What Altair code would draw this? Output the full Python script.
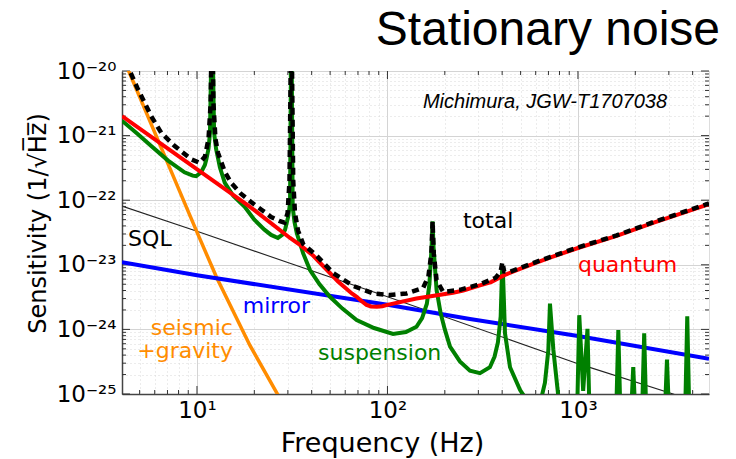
import altair as alt
import pandas as pd

# ---------------- data ----------------
# quantum noise
quantum_f = [4.04, 19, 30.8, 35, 40.8, 45, 50, 55, 60, 65, 68.9, 73, 77.6, 82, 88, 94, 100, 142, 221, 250,
             306, 350, 405, 500, 600, 713, 1000, 1596, 2500, 4875]
quantum_h = [2.0e-21, 7.9e-23, 2.6e-23, 2.0e-23, 1.38e-23, 1.02e-23, 7.4e-24, 5.5e-24, 4.4e-24, 3.6e-24,
             3.2e-24, 2.75e-24, 2.4e-24, 2.27e-24, 2.24e-24, 2.29e-24, 2.4e-24, 3.0e-24, 3.7e-24, 4.0e-24,
             4.8e-24, 5.4e-24, 6.8e-24, 8.7e-24, 1.07e-23, 1.29e-23, 1.82e-23, 2.8e-23, 4.5e-23, 8.7e-23]

# suspension thermal noise
susp_f = [4.04, 4.9, 5.75, 7.05, 8.6, 9.5, 9.9, 10.5, 11.0, 11.2, 11.5, 11.7, 12.0, 12.3, 12.6, 13.2, 14.0,
          15.5, 17.8, 20, 22.6, 24.5, 26.6, 28, 29.0, 30.1, 30.8, 31.3, 31.8, 32.5, 33.4, 36.1, 39.2, 44, 49.9,
          58, 68.9, 85, 107, 125, 142, 152, 161, 166, 170.5, 172.5, 174.5, 181, 190, 200, 213, 240, 271, 306,
          345, 365, 380, 393, 399, 401, 404, 414, 440, 497, 600, 645, 671, 699, 713, 743, 789, 850, 990, 1016,
          1065, 1122, 1150, 1588, 1629, 1670, 1902, 1951, 2000, 2171, 2227, 2283, 2860, 2933, 3006, 3654,
          3748, 3842, 4875]
susp_h = [1.7e-21, 1.05e-21, 6.9e-22, 4.1e-22, 2.7e-22, 2.4e-22, 2.35e-22, 2.7e-22, 3.5e-22, 4.3e-22, 6.3e-22,
          1.1e-21, 1e-19, 1.1e-21, 6.2e-22, 3.2e-22, 1.86e-22, 1.17e-22, 7.9e-23, 5.0e-23, 3.5e-23, 2.9e-23,
          2.6e-23, 2.9e-23, 3.5e-23, 5.5e-23, 8.9e-23, 1e-19, 7.9e-23, 4.6e-23, 3.1e-23, 1.5e-23, 8.3e-24,
          5.0e-24, 3.2e-24, 2.1e-24, 1.4e-24, 1.05e-24, 8.5e-25, 9.1e-25, 1.1e-24, 1.5e-24, 2.5e-24, 5.0e-24,
          1.9e-23, 4.7e-23, 1.9e-23, 4.1e-24, 1.8e-24, 1.0e-24, 5.4e-25, 3.2e-25, 2.3e-25, 2.1e-25, 2.6e-25,
          3.8e-25, 6.3e-25, 1.6e-24, 7.4e-24, 9.3e-24, 7.4e-24, 8.7e-25, 2.6e-25, 1.15e-25, 5e-26, 9.1e-26,
          1.5e-25, 4.8e-25, 2.5e-24, 4.8e-25, 9.1e-26, 4e-26, 5e-26, 1.66e-24, 1.12e-25, 1.02e-24, 5e-26, 5e-26,
          9.8e-25, 5e-26, 5e-26, 2.6e-25, 5e-26, 5e-26, 8.7e-25, 5e-26, 5e-26, 3.4e-25, 5e-26, 5e-26, 1.6e-24,
          5e-26, 4e-26]

# total noise
total_f = [4.3, 4.44, 4.9, 5.75, 6.5, 7.64, 9.33, 10.3, 11.0, 11.5, 11.8, 12.0, 12.2, 12.5, 12.9, 14.0, 15.1,
           17.0, 19.3, 22, 24.5, 27, 28.8, 29.9, 30.6, 31.3, 32.0, 32.7, 33.9, 36.1, 42.5, 52, 66.1, 84.1, 103,
           126, 154, 164, 170, 172.5, 175, 181, 196, 240, 306, 370, 393, 401, 410, 440, 500, 600, 713, 1000,
           1596, 2500, 4875]
total_h = [1.4e-20, 1.0e-20, 5.2e-21, 2.0e-21, 1.1e-21, 6.9e-22, 4.3e-22, 3.8e-22, 4.7e-22, 8.9e-22, 3.2e-21,
           1e-19, 3.2e-21, 8.9e-22, 5.4e-22, 2.75e-22, 1.86e-22, 1.26e-22, 9.3e-23, 7.0e-23, 5.5e-23, 4.8e-23,
           4.5e-23, 6.3e-23, 2.0e-22, 1e-19, 2.0e-22, 6.3e-23, 3.4e-23, 2.1e-23, 1.38e-23, 7.4e-24, 4.7e-24,
           3.6e-24, 3.4e-24, 3.6e-24, 4.4e-24, 6.6e-24, 1.5e-23, 4.7e-23, 1.5e-23, 5.8e-24, 3.8e-24, 4.1e-24,
           5.0e-24, 6.3e-24, 7.9e-24, 1.1e-23, 7.9e-24, 7.8e-24, 9.0e-24, 1.1e-23, 1.32e-23, 1.86e-23, 2.85e-23,
           4.6e-23, 8.9e-23]

# seismic + gravity gradient
seis_f = [4.0, 4.38, 10, 12.7, 19.0, 26.7, 28]
seis_h = [1.9e-20, 1.0e-20, 3.2e-23, 6.3e-24, 5.6e-25, 9.5e-26, 7.1e-26]

# mirror thermal
mirror_f = [4.04, 10, 100, 271, 1000, 4875]
mirror_h = [1.1e-23, 6.9e-24, 2.4e-24, 1.45e-24, 7.9e-25, 3.5e-25]

# standard quantum limit
sql_f = [4.04, 10, 100, 1000, 3160, 4875]
sql_h = [8.1e-23, 3.3e-23, 3.2e-24, 2.95e-25, 1.0e-25, 6.3e-26]

# annotations
label_text = ["total", "SQL", "quantum", "mirror", "suspension"]
label_f = [249, 4.35, 1000, 17.4, 43.2]
label_h = [3.7e-23, 1.95e-23, 7.8e-24, 1.78e-24, 3.4e-25]
label_color = ["black", "black", "#ff0000", "#0000ff", "#008000"]
seis_label_text = ["seismic", "+gravity"]
seis_label_f = [15.45, 15.45]
seis_label_h = [8.1e-25, 3.6e-25]

# tick values
x_major = [10, 100, 1000]
x_minor = [5, 6, 7, 8, 9, 20, 30, 40, 50, 60, 70, 80, 90, 200, 300, 400, 500, 600, 700, 800, 900,
           2000, 3000, 4000]
y_major = [1e-25, 1e-24, 1e-23, 1e-22, 1e-21, 1e-20]
y_minor = [m * 10.0 ** e for e in range(-25, -20) for m in range(2, 10)]

# ---------------- chart ----------------
W, H = 587, 323
FONT = "DejaVu Sans"
xscale = alt.Scale(type="log", domain=[4.04, 4875], nice=False)
yscale = alt.Scale(type="log", domain=[1e-25, 1e-20], nice=False)
MAJ = "abs(log(datum.value)/LN10 - round(log(datum.value)/LN10)) < 0.001"
grid_dash = {"condition": {"test": MAJ, "value": []}, "value": [1, 3]}
grid_color = {"condition": {"test": MAJ, "value": "#d4d4d4"}, "value": "#d8d8d8"}

EXP = "round(log(datum.value)/LN10)"
ylab = ("(" + MAJ + ") ? (" + EXP + " == -20 ? '10⁻²⁰' : " + EXP + " == -21 ? '10⁻²¹' : " + EXP +
        " == -22 ? '10⁻²²' : " + EXP + " == -23 ? '10⁻²³' : " + EXP + " == -24 ? '10⁻²⁴' : " + EXP +
        " == -25 ? '10⁻²⁵' : '') : ''")
xlab = "datum.value == 10 ? '10¹' : datum.value == 100 ? '10²' : datum.value == 1000 ? '10³' : ''"

x_axis = alt.Axis(values=sorted(x_major + x_minor), labelExpr=xlab, grid=True, gridDash=grid_dash,
                  gridColor=grid_color, gridWidth=1, ticks=False, domainColor="#444", domainWidth=1.5,
                  labelFont=FONT, labelFontSize=23, labelColor="black", labelPadding=5,
                  labelFlush=False, labelOverlap=False, labelBaseline="top",
                  title="Frequency (Hz)", titleFont=FONT, titleFontSize=27, titleFontWeight="normal",
                  titleColor="black", titleX=260, titleY=57, titleBaseline="alphabetic",
                  titleAlign="center")
y_axis = alt.Axis(values=sorted(y_major + y_minor), labelExpr=ylab, grid=True, gridDash=grid_dash,
                  gridColor=grid_color, gridWidth=1, ticks=False, domainColor="#444", domainWidth=1.5,
                  labelFont=FONT, labelFontSize=23, labelColor="black", labelPadding=6,
                  labelFlush=False, labelOverlap=False,
                  title="Sensitivity (1/√H̅z̅)", titleFont=FONT, titleFontSize=24, titleFontWeight="normal",
                  titleColor="black", titleX=-84, titleY=152, titleAngle=270, titleAlign="center",
                  titleBaseline="middle")


def X(field):
    return alt.X(field, type="quantitative", scale=xscale, axis=x_axis)


def Y(field):
    return alt.Y(field, type="quantitative", scale=yscale, axis=y_axis)


def line(f, h, color, width, dash=None):
    df = pd.DataFrame({"f": f, "h": h})
    kw = dict(color=color, strokeWidth=width, clip=True)
    if dash:
        kw["strokeDash"] = dash
    return alt.Chart(df).mark_line(**kw).encode(x=X("f"), y=Y("h"), order="f:Q")


def yticks(vals, x0, x1):
    df = pd.DataFrame({"v": vals})
    return alt.Chart(df).mark_rule(color="#333", strokeWidth=1).encode(
        y=Y("v"), x=alt.value(x0), x2=alt.value(x1))


def xticks(vals, y0, y1):
    df = pd.DataFrame({"v": vals})
    return alt.Chart(df).mark_rule(color="#333", strokeWidth=1).encode(
        x=X("v"), y=alt.value(y0), y2=alt.value(y1))


ticks = [
    yticks(y_major, 0, 8), yticks(y_minor, 0, 4), yticks(y_major, W, W - 8), yticks(y_minor, W, W - 4),
    xticks(x_major, H, H - 8), xticks(x_minor, H, H - 4), xticks(x_major, 0, 8), xticks(x_minor, 0, 4),
]

sql = line(sql_f, sql_h, "#222222", 1.1)
seis = line(seis_f, seis_h, "#ff8c00", 3.5)
mirror = line(mirror_f, mirror_h, "#0000ff", 4)
susp = line(susp_f, susp_h, "#008000", 4)
quant = line(quantum_f, quantum_h, "#ff0000", 4)
total = line(total_f, total_h, "black", 4.5, dash=[7, 5])

lab_df = pd.DataFrame({"t": label_text, "f": label_f, "h": label_h, "c": label_color})
labels = alt.Chart(lab_df).mark_text(align="left", baseline="alphabetic", font=FONT, fontSize=22).encode(
    x=X("f"), y=Y("h"), text="t:N", color=alt.Color("c:N", scale=None))
seis_df = pd.DataFrame({"t": seis_label_text, "f": seis_label_f, "h": seis_label_h})
seis_labels = alt.Chart(seis_df).mark_text(align="right", baseline="alphabetic", font=FONT, fontSize=22,
                                           color="#ff8c00").encode(x=X("f"), y=Y("h"), text="t:N")
ref_df = pd.DataFrame({"t": ["Michimura, JGW-T1707038"], "f": [153.5], "h": [2.7e-21]})
ref = alt.Chart(ref_df).mark_text(align="left", baseline="alphabetic", font="Liberation Sans", fontSize=20,
                                  fontStyle="italic", color="black").encode(x=X("f"), y=Y("h"), text="t:N")

chart = alt.layer(sql, *ticks, seis, mirror, susp, quant, total, labels, seis_labels, ref).properties(
    width=W, height=H,
    padding={"left": 122, "top": 71, "right": 27, "bottom": 65},
    autosize=alt.AutoSizeParams(type="none"),
    title=alt.TitleParams(text="Stationary noise", anchor="end", font="Liberation Sans", fontSize=48,
                          fontWeight="normal", color="black", baseline="alphabetic", offset=26, dx=11,
                          dy=59, frame="group"),
).configure_view(stroke="#9a9a9a", strokeWidth=1.5).configure(background="white")

chart.save("out.html", embed_options={"renderer": "svg", "actions": False})
